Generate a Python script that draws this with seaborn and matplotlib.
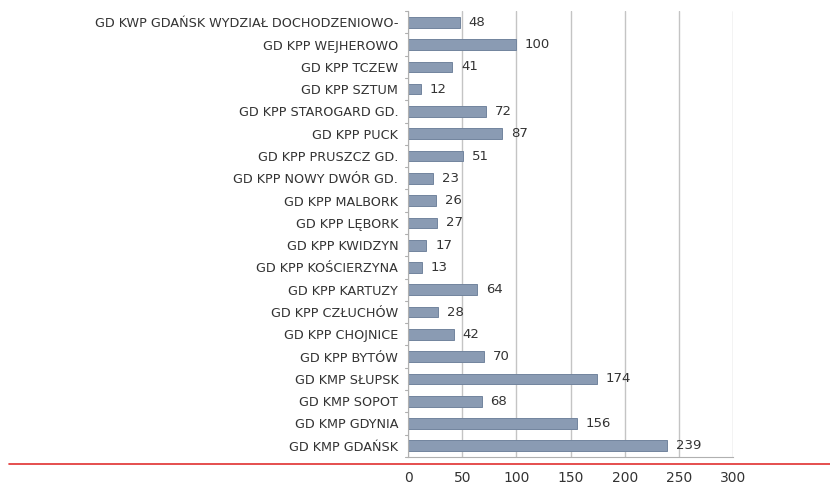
import matplotlib
matplotlib.use("Agg")
import matplotlib.pyplot as plt
import seaborn as sns
import pandas as pd
from matplotlib.lines import Line2D

# chart data (top to bottom)
units = [
    "GD KWP GDAŃSK WYDZIAŁ DOCHODZENIOWO-",
    "GD KPP WEJHEROWO",
    "GD KPP TCZEW",
    "GD KPP SZTUM",
    "GD KPP STAROGARD GD.",
    "GD KPP PUCK",
    "GD KPP PRUSZCZ GD.",
    "GD KPP NOWY DWÓR GD.",
    "GD KPP MALBORK",
    "GD KPP LĘBORK",
    "GD KPP KWIDZYN",
    "GD KPP KOŚCIERZYNA",
    "GD KPP KARTUZY",
    "GD KPP CZŁUCHÓW",
    "GD KPP CHOJNICE",
    "GD KPP BYTÓW",
    "GD KMP SŁUPSK",
    "GD KMP SOPOT",
    "GD KMP GDYNIA",
    "GD KMP GDAŃSK",
]
counts = [48, 100, 41, 12, 72, 87, 51, 23, 26, 27, 17, 13, 64, 28, 42, 70, 174, 68, 156, 239]
x_ticks = [0, 50, 100, 150, 200, 250, 300]

df = pd.DataFrame({"unit": units, "count": counts})

sns.set_style("white")
plt.rcParams["font.family"] = ["DejaVu Sans"]

fig = plt.figure(figsize=(8.3, 4.84), dpi=100)
ax = fig.add_axes([0.4916, 0.056, 0.3916, 0.921])

sns.barplot(data=df, x="count", y="unit", orient="h", color="#8a9bb3",
            width=0.48, edgecolor="#72849e", linewidth=0.7, saturation=1, ax=ax)

ax.set_xlim(0, 300)
ax.set_ylim(len(units) - 0.5, -0.5)
ax.set_xticks(x_ticks)
ax.xaxis.grid(True, color="#c4c4c4", linewidth=1)
ax.set_axisbelow(True)
ax.set_xlabel("")
ax.set_ylabel("")

for i, v in enumerate(counts):
    ax.text(v + 8, i, str(v), va="center", ha="left", fontsize=9.5, color="#333333")

ax.tick_params(axis="y", length=0, labelsize=9.2, colors="#333333", pad=7)
ax.tick_params(axis="x", length=4, labelsize=10, colors="#333333", pad=6,
               direction="out", width=0.8)
ax.spines["top"].set_visible(False)
ax.spines["right"].set_visible(False)
for s in ["left", "bottom"]:
    ax.spines[s].set_color("#b0b0b0")

# small ticks on the left spine between categories
for k in range(len(units) + 1):
    ax.plot([-3, 0], [k - 0.5, k - 0.5], color="#b0b0b0", lw=0.8, clip_on=False)

fig.add_artist(Line2D([0.011, 1.0], [0.041, 0.041], color="#e03030", lw=1.2))

fig.savefig("out.png", dpi=100)
